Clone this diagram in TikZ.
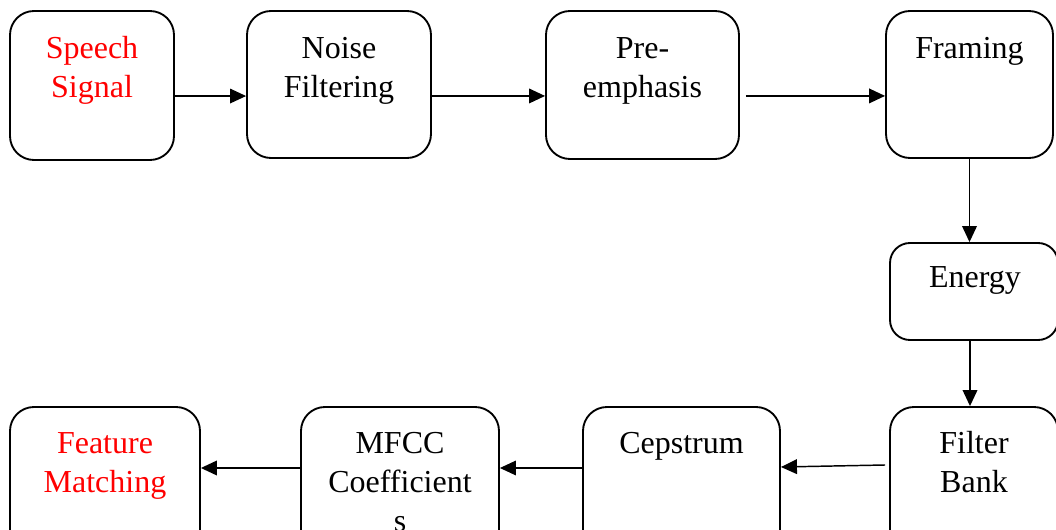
\documentclass[tikz,border=0pt]{standalone}
\usepackage{fontspec}
\setmainfont{Liberation Serif}
\usetikzlibrary{arrows.meta}
\tikzset{
  box/.style={draw=black, line width=1.4pt, rounded corners=18pt, inner sep=0pt, fill=white},
  txt/.style={anchor=north, inner sep=0pt, align=center, font=\fontsize{24}{29.5}\selectfont},
  arr/.style={line width=1.1pt, -{Triangle[length=12pt,width=11pt]}},
  thinarr/.style={line width=0.8pt, -{Triangle[length=12pt,width=11pt]}},
}
\begin{document}
\begin{tikzpicture}[x=0.75pt,y=-0.75pt]
\useasboundingbox (0,0) rectangle (1056,530);
\clip (0,0) rectangle (1056,530);
\fill[white] (0,0) rectangle (1056,530);
% boxes
\node[box, minimum width=164*0.75pt, minimum height=149*0.75pt] (sp) at (92,85.5) {};
\node[box, minimum width=184*0.75pt, minimum height=147*0.75pt] (nf) at (339,84.5) {};
\node[box, minimum width=193*0.75pt, minimum height=148*0.75pt] (pe) at (642.5,85) {};
\node[box, minimum width=167*0.75pt, minimum height=147*0.75pt] (fr) at (969.5,84.5) {};
\node[box, rounded corners=15pt, minimum width=168*0.75pt, minimum height=97*0.75pt] (en) at (974,291.5) {};
\node[box, minimum width=168*0.75pt, minimum height=150*0.75pt] (fb) at (974,482) {};
\node[box, minimum width=197*0.75pt, minimum height=150*0.75pt] (ce) at (681.5,482) {};
\node[box, minimum width=198*0.75pt, minimum height=150*0.75pt] (mf) at (400,482) {};
\node[box, minimum width=190*0.75pt, minimum height=150*0.75pt] (fm) at (105,482) {};
% texts
\node[txt, text=red] (tsp) at (92,30.5) {\strut Speech\\Signal};
\node[txt] (tnf) at (339,30.5) {\strut Noise\\Filtering};
\node[txt] (tpe) at (642.5,30.5) {\strut Pre-\\emphasis};
\node[txt] (tfr) at (969.5,30.5) {\strut Framing};
\node[txt] (ten) at (975,259.5) {\strut Energy};
\node[txt] (tfb) at (974,425.5) {\strut Filter\\Bank};
\node[txt] (tce) at (681.5,425.5) {\strut Cepstrum};
\node[txt] (tmf) at (400,425.5) {\strut MFCC\\Coefficient\\s};
\node[txt, text=red] (tfm) at (105,425.5) {\strut Feature\\Matching};
% connectors
\draw[thinarr] ([yshift=-7.9pt]sp.east) -- ([yshift=-7.9pt]sp.east -| nf.west);
\draw[arr] ([yshift=-8.6pt]nf.east) -- ([yshift=-8.6pt]nf.east -| pe.west);
\draw[arr] ([xshift=4.5pt,yshift=-8.2pt]pe.east) -- ([yshift=-8.2pt]pe.east -| fr.west);
\draw[arr] (fr.south) -- (fr.south |- en.north);
\draw[arr] ([xshift=-3pt]en.south) -- ([xshift=-3pt]fb.north);
\draw[arr] ([xshift=-3pt,yshift=12.75pt]fb.west) -- ([yshift=11.25pt]ce.east);
\draw[thinarr] ([yshift=10.5pt]ce.west) -- ([yshift=10.5pt]ce.west -| mf.east);
\draw[arr] ([yshift=10.5pt]mf.west) -- ([yshift=10.5pt]mf.west -| fm.east);
\end{tikzpicture}
\end{document}
